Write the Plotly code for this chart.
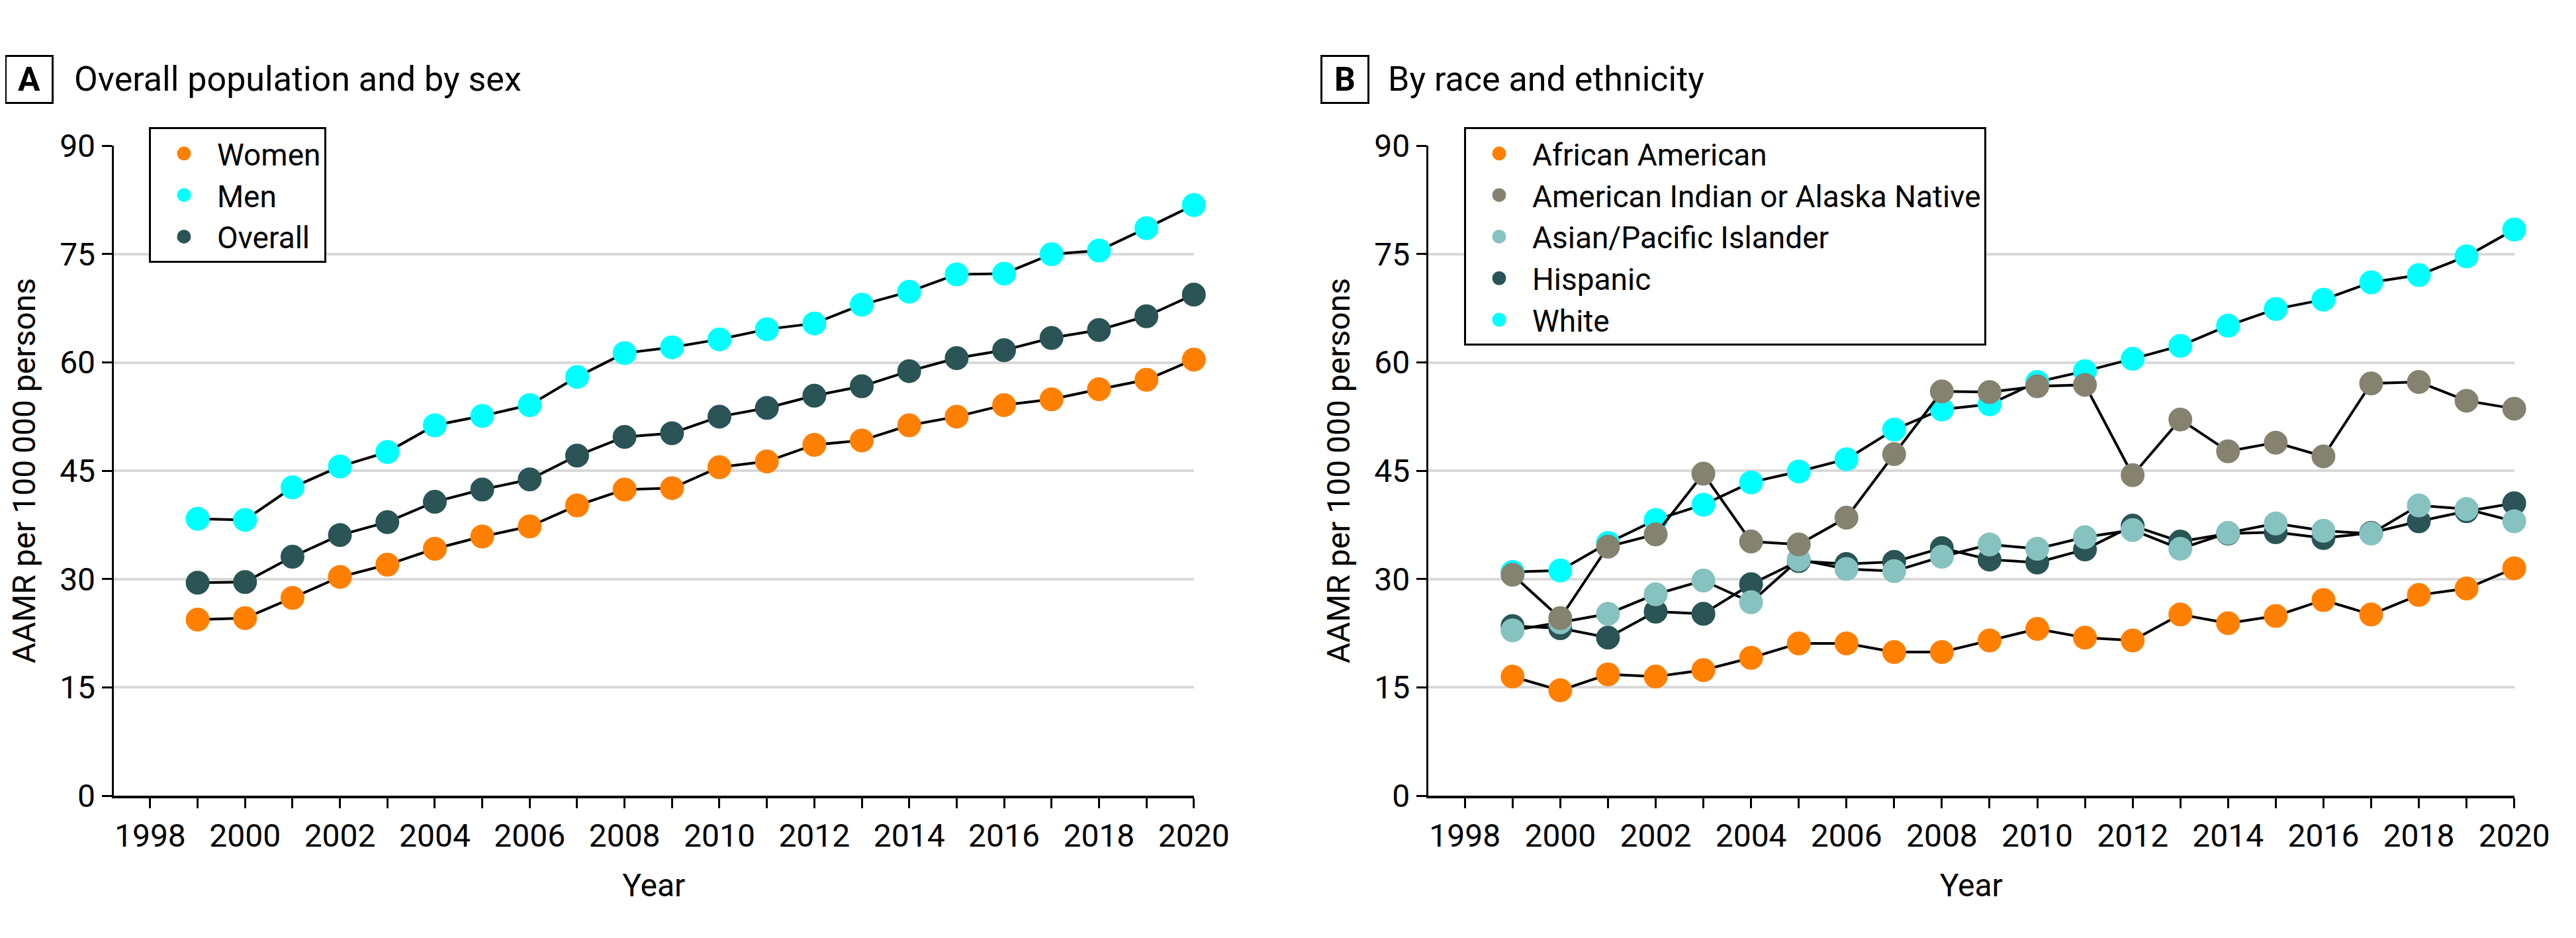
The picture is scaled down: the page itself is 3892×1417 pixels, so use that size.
import plotly.graph_objects as go

years = list(range(1999, 2021))

# Panel A
women = [24.4, 24.6, 27.4, 30.3, 32.0, 34.2, 35.9, 37.3, 40.2, 42.4, 42.6,
         45.5, 46.3, 48.6, 49.2, 51.3, 52.5, 54.1, 54.9, 56.3, 57.6, 60.4]
men = [38.35, 38.2, 42.7, 45.6, 47.6, 51.3, 52.6, 54.1, 58.0, 61.3, 62.1,
       63.2, 64.6, 65.4, 68.0, 69.8, 72.2, 72.3, 75.0, 75.5, 78.6, 81.8]
overall = [29.5, 29.6, 33.1, 36.1, 37.9, 40.7, 42.4, 43.8, 47.1, 49.7, 50.2,
           52.5, 53.7, 55.4, 56.7, 58.8, 60.6, 61.7, 63.4, 64.5, 66.4, 69.4]

# Panel B
african_american = [16.5, 14.6, 16.8, 16.5, 17.4, 19.1, 21.1, 21.1, 19.9, 19.9, 21.5,
                    23.1, 21.9, 21.5, 25.1, 23.9, 24.9, 27.1, 25.1, 27.8, 28.7, 31.5]
american_indian = [30.6, 24.6, 34.5, 36.2, 44.6, 35.2, 34.8, 38.5, 47.3, 56.0, 55.9,
                   56.7, 56.9, 44.4, 52.1, 47.7, 48.9, 47.0, 57.1, 57.3, 54.7, 53.6]
asian_pi = [22.9, 24.0, 25.2, 27.9, 29.8, 26.8, 32.7, 31.4, 31.1, 33.1, 34.8,
            34.2, 35.8, 36.8, 34.2, 36.4, 37.7, 36.7, 36.3, 40.2, 39.7, 38.0]
hispanic = [23.5, 23.2, 21.9, 25.5, 25.2, 29.3, 32.5, 32.1, 32.4, 34.3, 32.7,
            32.3, 34.1, 37.4, 35.2, 36.3, 36.5, 35.7, 36.4, 38.0, 39.4, 40.5]
white = [31.0, 31.2, 35.0, 38.2, 40.3, 43.4, 44.9, 46.6, 50.7, 53.5, 54.2,
         57.3, 58.8, 60.5, 62.3, 65.1, 67.4, 68.7, 71.1, 72.1, 74.7, 78.4]

x_tick_vals = list(range(1998, 2021, 2))
y_tick_vals = [0, 15, 30, 45, 60, 75, 90]

ORANGE = "#FF8000"
CYAN = "#00FFFF"
DARK = "#2A5455"
GRAYOL = "#858370"
LTEAL = "#86C2C0"

FONT = "Roboto, Liberation Sans Narrow, DejaVu Sans Condensed, sans-serif"

fig = go.Figure()

def add_series(x, y, color, name, xa, ya, legend):
    fig.add_trace(go.Scatter(x=x, y=y, mode="lines", line=dict(color="black", width=4),
                             xaxis=xa, yaxis=ya, showlegend=False, hoverinfo="skip",
                             cliponaxis=False))
    fig.add_trace(go.Scatter(x=x, y=y, mode="markers", name=name,
                             marker=dict(color=color, size=31, line=dict(width=5, color=color)),
                             xaxis=xa, yaxis=ya, legend=legend, cliponaxis=False))

add_series(years, women, ORANGE, "Women", "x", "y", "legend")
add_series(years, men, CYAN, "Men", "x", "y", "legend")
add_series(years, overall, DARK, "Overall", "x", "y", "legend")

add_series(years, white, CYAN, "White", "x2", "y2", "legend2")
add_series(years, hispanic, DARK, "Hispanic", "x2", "y2", "legend2")
add_series(years, asian_pi, LTEAL, "Asian/Pacific Islander", "x2", "y2", "legend2")
add_series(years, american_indian, GRAYOL, "American Indian or Alaska Native", "x2", "y2", "legend2")
add_series(years, african_american, ORANGE, "African American", "x2", "y2", "legend2")

W, H = 3892, 1417
ytop = 1 - 192 / H
ybot = 1 - 1215 / H

xaxis_common = dict(
    range=[1997.23, 2020], tickmode="array", tickvals=x_tick_vals,
    ticks="outside", ticklen=15, tickwidth=3, tickcolor="black",
    minor=dict(dtick=1, tick0=1998, ticks="outside", ticklen=15, tickwidth=3, tickcolor="black", showgrid=False),
    showline=True, linecolor="black", linewidth=4, showgrid=False, zeroline=False,
    tickfont=dict(size=48, color="black", family=FONT),
    title=dict(text="Year", font=dict(size=48, color="black", family=FONT), standoff=32),
)
yaxis_common = dict(
    range=[0, 90], tickmode="array", tickvals=y_tick_vals,
    ticks="outside", ticklen=15, tickwidth=3, tickcolor="black",
    showline=True, linecolor="black", linewidth=3, showgrid=True, gridcolor="#D9D9D9", gridwidth=4,
    zeroline=False, domain=[ybot, ytop],
    tickfont=dict(size=48, color="black", family=FONT),
    title=dict(text="AAMR per 100\u2009000 persons", font=dict(size=48, color="black", family=FONT), standoff=22),
)

legend_common = dict(
    y=1 - 163 / H, xanchor="left", yanchor="top",
    bordercolor="black", borderwidth=3, bgcolor="white",
    font=dict(size=46, family=FONT, color="black"), tracegroupgap=0,
    itemwidth=90,
)

fig.update_layout(
    width=W, height=H,
    margin=dict(l=0, r=0, t=0, b=0),
    paper_bgcolor="white", plot_bgcolor="white",
    font=dict(family=FONT, color="black"),
    xaxis=dict(xaxis_common, domain=[166 / W, 1821 / W], anchor="y"),
    yaxis=dict(yaxis_common, anchor="x"),
    xaxis2=dict(xaxis_common, domain=[2180 / W, 3844 / W], anchor="y2"),
    yaxis2=dict(yaxis_common, anchor="x2"),
    legend=dict(legend_common, x=220 / W),
    legend2=dict(legend_common, x=2235 / W, traceorder="reversed"),
    showlegend=True,
)

# Panel labels
for lbl, bx, title, tx in [("A", 0, "Overall population and by sex", 103),
                           ("B", 2015, "By race and ethnicity", 2116)]:
    fig.add_annotation(text="<b>%s</b>" % lbl, xref="paper", yref="paper",
                       x=(bx + 37) / W, y=1 - 87 / H, xanchor="center", yanchor="middle",
                       showarrow=False, font=dict(size=50, family=FONT, color="black"),
                       bordercolor="black", borderwidth=3, width=66, height=66, bgcolor="white")
    fig.add_annotation(text=title, xref="paper", yref="paper",
                       x=tx / W, y=1 - 87 / H, xanchor="left", yanchor="middle",
                       showarrow=False, font=dict(size=52, family=FONT, color="black"))

fig.write_html("out.html")
